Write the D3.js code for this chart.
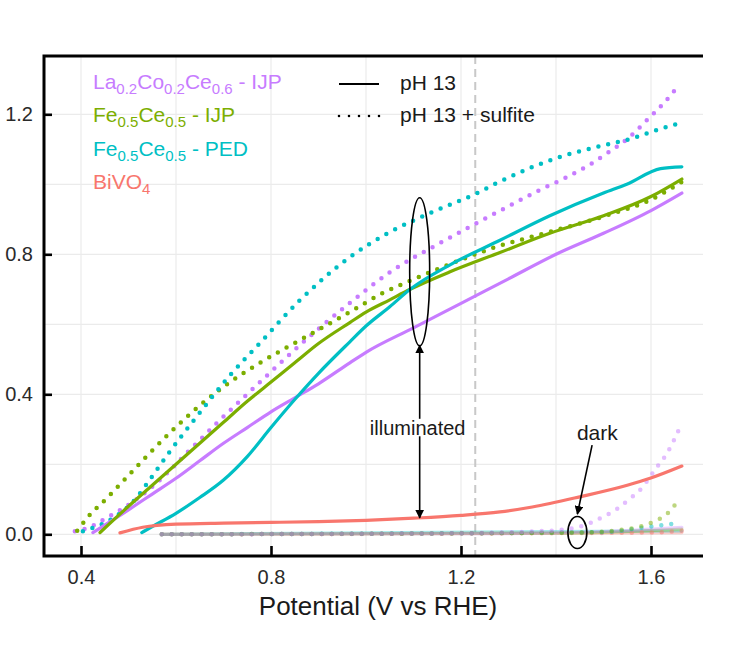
<!DOCTYPE html>
<html>
<head>
<meta charset="utf-8">
<script src="https://cdn.jsdelivr.net/npm/d3@7"></script>
<style>
    body { margin: 0; background: #fff; }
    text { font-family: "Liberation Sans", Arial, sans-serif; }
</style>
</head>
<body>
<div id="chart"></div>
<script>
// values: [potential (V vs RHE), photocurrent]
// pH 13, illuminated
const lcoLight = [[0.425,0.005],[0.5,0.07],[0.55,0.115],[0.6,0.16],[0.65,0.21],[0.7,0.26],[0.75,0.305],[0.8,0.35],[0.85,0.39],[0.9,0.43],[0.966,0.49],[1.0,0.52],[1.1,0.59],[1.2,0.66],[1.3,0.73],[1.4,0.8],[1.5,0.86],[1.6,0.925],[1.665,0.975]];
const feIjpLight = [[0.44,0.005],[0.5,0.08],[0.55,0.14],[0.6,0.2],[0.65,0.26],[0.7,0.32],[0.75,0.38],[0.8,0.435],[0.85,0.49],[0.9,0.545],[0.966,0.605],[1.0,0.635],[1.05,0.67],[1.093,0.7],[1.177,0.75],[1.282,0.805],[1.387,0.86],[1.5,0.91],[1.6,0.965],[1.665,1.015]];
const fePedLight = [[0.528,0.005],[0.55,0.022],[0.6,0.06],[0.65,0.105],[0.7,0.155],[0.75,0.222],[0.8,0.305],[0.85,0.385],[0.9,0.46],[0.966,0.55],[1.0,0.595],[1.05,0.65],[1.093,0.7],[1.177,0.77],[1.282,0.84],[1.387,0.91],[1.5,0.975],[1.549,1.0],[1.62,1.045],[1.665,1.05]];
const bvoLight = [[0.482,0.004],[0.53,0.02],[0.6,0.029],[0.7,0.032],[0.8,0.034],[0.9,0.036],[1.0,0.04],[1.1,0.046],[1.2,0.054],[1.282,0.064],[1.35,0.078],[1.45,0.107],[1.55,0.14],[1.598,0.16],[1.665,0.195]];
// pH 13 + sulfite, illuminated
const lcoSulfite = [[0.387,0.009],[0.419,0.021],[0.446,0.041],[0.482,0.069],[0.524,0.107],[0.573,0.164],[0.619,0.227],[0.693,0.327],[0.777,0.435],[0.861,0.541],[0.966,0.661],[1.057,0.755],[1.141,0.821],[1.234,0.89],[1.297,0.935],[1.366,0.984],[1.419,1.018],[1.467,1.053],[1.509,1.09],[1.552,1.132],[1.592,1.184],[1.629,1.235],[1.661,1.287]];
const feIjpSulfite = [[0.392,0.01],[0.413,0.047],[0.455,0.104],[0.499,0.167],[0.541,0.227],[0.587,0.29],[0.651,0.369],[0.714,0.435],[0.777,0.49],[0.861,0.555],[0.966,0.635],[1.036,0.69],[1.099,0.728],[1.177,0.772],[1.267,0.818],[1.387,0.864],[1.509,0.912],[1.598,0.955],[1.665,1.007]];
const fePedSulfite = [[0.404,0.009],[0.461,0.041],[0.509,0.092],[0.549,0.164],[0.583,0.229],[0.651,0.349],[0.714,0.455],[0.777,0.547],[0.861,0.669],[0.966,0.792],[1.051,0.864],[1.135,0.918],[1.234,0.975],[1.276,1.004],[1.408,1.078],[1.478,1.104],[1.562,1.132],[1.625,1.161],[1.661,1.175]];
// dark
const lcoDark = [[0.57,0],[1.3,0.002],[1.5,0.008],[1.665,0.02]];
const feIjpDark = [[0.57,0],[1.4,0.003],[1.665,0.015]];
const fePedDark = [[0.57,0],[1.665,0.01]];
const bvoDark = [[0.57,0],[1.665,0.005]];
const lcoSulfiteDark = [[0.57,0],[1.2,0.003],[1.35,0.008],[1.413,0.013],[1.444,0.02],[1.472,0.032],[1.499,0.05],[1.528,0.072],[1.552,0.098],[1.577,0.127],[1.613,0.193],[1.634,0.232],[1.646,0.263],[1.661,0.306]];
const feIjpSulfiteDark = [[0.57,0],[1.45,0.005],[1.55,0.015],[1.604,0.035],[1.635,0.06],[1.655,0.092]];
const fePedSulfiteDark = [[0.57,0],[1.5,0.006],[1.577,0.018],[1.655,0.032]];
const bvoSulfiteDark = [[0.57,0],[1.6,0.005],[1.665,0.01]];

const xTicks = [0.4, 0.8, 1.2, 1.6];
const yTicks = [0.0, 0.4, 0.8, 1.2];
const xGrid = [0.4, 0.6, 0.8, 1.0, 1.2, 1.4, 1.6];
const yGrid = [0.0, 0.2, 0.4, 0.6, 0.8, 1.0, 1.2];

const purple = "#C77CFF", green = "#7CAE00", cyan = "#00BFC4", red = "#F8766D";

const svg = d3.select("#chart").append("svg")
    .attr("width", 742)
    .attr("height", 656);

const panel = {left: 44, right: 703, top: 56, bottom: 556};
const x = d3.scaleLinear().domain([0.4, 1.6]).range([81, 651]);
const y = d3.scaleLinear().domain([0, 1.2]).range([534.3, 114.3]);

// grid
svg.append("g").selectAll("line").data(xGrid).enter().append("line")
    .attr("x1", d => x(d)).attr("x2", d => x(d))
    .attr("y1", panel.top).attr("y2", panel.bottom)
    .attr("stroke", "#ebebeb").attr("stroke-width", 1.2);
svg.append("g").selectAll("line").data(yGrid).enter().append("line")
    .attr("x1", panel.left).attr("x2", panel.right)
    .attr("y1", d => y(d)).attr("y2", d => y(d))
    .attr("stroke", "#ebebeb").attr("stroke-width", 1.2);

// 1.23 V line
svg.append("line")
    .attr("x1", x(1.23)).attr("x2", x(1.23))
    .attr("y1", panel.top).attr("y2", panel.bottom)
    .attr("stroke", "#c8c8c8").attr("stroke-width", 2)
    .attr("stroke-dasharray", "8,5");

svg.append("clipPath").attr("id", "clip").append("rect")
    .attr("x", panel.left).attr("y", panel.top)
    .attr("width", panel.right - panel.left).attr("height", panel.bottom - panel.top);

const line = d3.line()
    .x(d => x(d[0]))
    .y(d => y(d[1]))
    .curve(d3.curveMonotoneX);

const series = [
    {data: bvoDark, color: red, dotted: false, dark: true},
    {data: fePedDark, color: cyan, dotted: false, dark: true},
    {data: feIjpDark, color: green, dotted: false, dark: true},
    {data: lcoDark, color: purple, dotted: false, dark: true},
    {data: bvoSulfiteDark, color: red, dotted: true, dark: true},
    {data: fePedSulfiteDark, color: cyan, dotted: true, dark: true},
    {data: feIjpSulfiteDark, color: green, dotted: true, dark: true},
    {data: lcoSulfiteDark, color: purple, dotted: true, dark: true},
    {data: lcoSulfite, color: purple, dotted: true, dark: false},
    {data: feIjpSulfite, color: green, dotted: true, dark: false},
    {data: fePedSulfite, color: cyan, dotted: true, dark: false},
    {data: lcoLight, color: purple, dotted: false, dark: false},
    {data: feIjpLight, color: green, dotted: false, dark: false},
    {data: fePedLight, color: cyan, dotted: false, dark: false},
    {data: bvoLight, color: red, dotted: false, dark: false}
];

const curves = svg.append("g").attr("clip-path", "url(#clip)");
curves.selectAll("path").data(series).enter().append("path")
    .attr("d", d => line(d.data))
    .attr("fill", "none")
    .attr("stroke", d => d.color)
    .attr("stroke-width", d => d.dotted ? 4.5 : 3.2)
    .attr("stroke-linecap", "round")
    .attr("stroke-dasharray", d => d.dotted ? "0,10" : null)
    .attr("opacity", d => d.dark ? (d.dotted ? 0.5 : 0.35) : 1);

// annotations
const ann = svg.append("g");
svg.append("defs").append("marker")
    .attr("id", "head")
    .attr("viewBox", "0 0 10 10")
    .attr("refX", 9).attr("refY", 5)
    .attr("markerWidth", 9).attr("markerHeight", 9)
    .attr("markerUnits", "userSpaceOnUse")
    .attr("orient", "auto")
    .append("path").attr("d", "M0,0 L10,5 L0,10 z").attr("fill", "#000");

const ax = x(1.113);
ann.append("ellipse")
    .attr("cx", ax).attr("cy", y(0.75))
    .attr("rx", 10).attr("ry", 74)
    .attr("fill", "none").attr("stroke", "#000").attr("stroke-width", 1.6);
ann.append("line")
    .attr("x1", ax).attr("x2", ax)
    .attr("y1", y(0.33)).attr("y2", y(0.54))
    .attr("stroke", "#000").attr("stroke-width", 1.6)
    .attr("marker-end", "url(#head)");
ann.append("line")
    .attr("x1", ax).attr("x2", ax)
    .attr("y1", y(0.28)).attr("y2", y(0.047))
    .attr("stroke", "#000").attr("stroke-width", 1.6)
    .attr("marker-end", "url(#head)");
ann.append("text")
    .attr("x", ax - 2).attr("y", y(0.305) + 7)
    .attr("text-anchor", "middle")
    .attr("fill", "#1a1a1a")
    .style("font-size", "20px")
    .text("illuminated");

ann.append("ellipse")
    .attr("cx", x(1.445)).attr("cy", y(0.005))
    .attr("rx", 9.5).attr("ry", 16)
    .attr("fill", "none").attr("stroke", "#000").attr("stroke-width", 1.6);
ann.append("line")
    .attr("x1", x(1.476)).attr("x2", x(1.445))
    .attr("y1", y(0.255)).attr("y2", y(0.058))
    .attr("stroke", "#000").attr("stroke-width", 1.6)
    .attr("marker-end", "url(#head)");
ann.append("text")
    .attr("x", x(1.487)).attr("y", y(0.29) + 7)
    .attr("text-anchor", "middle")
    .attr("fill", "#1a1a1a")
    .style("font-size", "21px")
    .text("dark");

// axes
const xAxis = d3.axisBottom(x).tickValues(xTicks).tickFormat(d3.format(".1f"))
    .tickSizeInner(-10).tickSizeOuter(0).tickPadding(14);
const yAxis = d3.axisLeft(y).tickValues(yTicks).tickFormat(d3.format(".1f"))
    .tickSizeInner(-8).tickSizeOuter(0).tickPadding(11);

const xg = svg.append("g").attr("transform", `translate(0,${panel.bottom})`).call(xAxis);
const yg = svg.append("g").attr("transform", `translate(${panel.left},0)`).call(yAxis);
[xg, yg].forEach(g => {
    g.select(".domain").remove();
    g.selectAll(".tick line").attr("stroke", "#000").attr("stroke-width", 2.6);
    g.selectAll(".tick text").attr("fill", "#2a2a2a")
        .style("font-size", "20px")
        .style("font-family", "'Liberation Sans', Arial, sans-serif");
});

// panel border (left, top, bottom)
svg.append("path")
    .attr("d", `M${panel.right},${panel.top} H${panel.left} V${panel.bottom} H${panel.right}`)
    .attr("fill", "none").attr("stroke", "#000").attr("stroke-width", 3);

svg.append("text")
    .attr("x", 378).attr("y", 615)
    .attr("text-anchor", "middle")
    .attr("fill", "#1a1a1a")
    .style("font-size", "26px")
    .text("Potential (V vs RHE)");

// legend: materials
const legendRows = [
    {color: purple, parts: [["La", 0], ["0.2", 1], ["Co", 0], ["0.2", 1], ["Ce", 0], ["0.6", 1], [" - IJP", 0]]},
    {color: green, parts: [["Fe", 0], ["0.5", 1], ["Ce", 0], ["0.5", 1], [" - IJP", 0]]},
    {color: cyan, parts: [["Fe", 0], ["0.5", 1], ["Ce", 0], ["0.5", 1], [" - PED", 0]]},
    {color: red, parts: [["BiVO", 0], ["4", 1]]}
];
legendRows.forEach((row, i) => {
    const t = svg.append("text")
        .attr("x", 93).attr("y", 89 + i * 33.4)
        .attr("fill", row.color)
        .style("font-size", "21px");
    let prev = 0;
    row.parts.forEach(p => {
        t.append("tspan")
            .attr("dy", (p[1] - prev) * 5)
            .style("font-size", p[1] ? "15px" : "21px")
            .text(p[0]);
        prev = p[1];
    });
});

// legend: line types
const keys = [{label: "pH 13", dotted: false}, {label: "pH 13 + sulfite", dotted: true}];
keys.forEach((k, i) => {
    const ky = 84 + i * 32;
    svg.append("line")
        .attr("x1", 339).attr("x2", k.dotted ? 381 : 379)
        .attr("y1", ky).attr("y2", ky)
        .attr("stroke", "#000")
        .attr("stroke-width", k.dotted ? 2.6 : 2.2)
        .attr("stroke-linecap", k.dotted ? "round" : "butt")
        .attr("stroke-dasharray", k.dotted ? "0,10" : null);
    svg.append("text")
        .attr("x", 400).attr("y", ky + 6)
        .attr("fill", "#1a1a1a")
        .style("font-size", "21px")
        .text(k.label);
});
</script>
</body>
</html>
